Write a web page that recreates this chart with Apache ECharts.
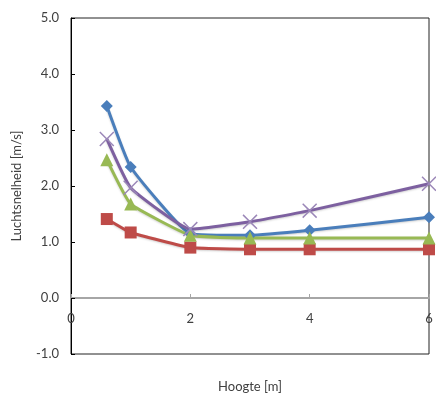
<!DOCTYPE html>
<html>
<head>
<meta charset="utf-8">
<script src="https://cdn.jsdelivr.net/npm/echarts@6/dist/echarts.min.js"></script>
<style>
  html, body { margin: 0; padding: 0; background: #fff; }
  #chart { width: 436px; height: 405px; }
</style>
</head>
<body>
<div id="chart"></div>
<script>
// Heights (m) at which air speed was measured
const heights = [0.6, 1, 2, 3, 4, 6];

// Air speed (m/s) per measurement series
const seriesBlue   = [3.43, 2.34, 1.15, 1.12, 1.21, 1.44];
const seriesRed    = [1.41, 1.17, 0.90, 0.87, 0.87, 0.87];
const seriesGreen  = [2.47, 1.68, 1.12, 1.07, 1.07, 1.07];
const seriesPurple = [2.84, 1.97, 1.23, 1.36, 1.56, 2.04];

const xTicks = [0, 2, 4, 6];
const yTicks = [-1, 0, 1, 2, 3, 4, 5];

const FONT = 'Lato, "Open Sans", sans-serif';
const crossPath = 'path://M0,0.7L0.7,0L5,4.3L9.3,0L10,0.7L5.7,5L10,9.3L9.3,10L5,5.7L0.7,10L0,9.3L4.3,5Z';

// Plot box in pixels; the x axis sits on the zero line, one y-step above the bottom edge
const GRID = { left: 71, right: 7, top: 18, bottom: 51 };
const plotHeight = 405 - GRID.top - GRID.bottom;
const yStepPx = plotHeight / (yTicks.length - 1);

function pairs(vals) {
  return heights.map((h, i) => [h, vals[i]]);
}

function makeSeries(vals, color, symbol, size, symbolColor) {
  return {
    type: 'line',
    data: pairs(vals),
    smooth: 0.12,
    symbol: symbol,
    symbolSize: size,
    showSymbol: true,
    lineStyle: { color: color, width: 3, shadowColor: 'rgba(0,0,0,0.18)', shadowBlur: 2, shadowOffsetY: 1 },
    itemStyle: { color: symbolColor || color },
    emphasis: { disabled: true },
    z: 3
  };
}

const chart = echarts.init(document.getElementById('chart'), null, { renderer: 'canvas' });
chart.setOption({
  animation: false,
  backgroundColor: '#ffffff',
  grid: Object.assign({
    containLabel: false,
    outerBoundsMode: 'none',
    show: true, borderColor: '#222', borderWidth: 1, backgroundColor: 'transparent'
  }, GRID),
  xAxis: {
    type: 'value',
    min: xTicks[0], max: xTicks[xTicks.length - 1], interval: 2,
    position: 'bottom',
    offset: -yStepPx * (0 - yTicks[0]),
    name: 'Hoogte [m]',
    nameLocation: 'middle',
    nameGap: 82,
    nameTextStyle: { fontFamily: FONT, fontSize: 13, color: '#404040' },
    axisLine: { onZero: false, lineStyle: { color: '#a6a6a6', width: 2 } },
    axisTick: { show: true, inside: true, length: 4, lineStyle: { color: '#a6a6a6' } },
    axisLabel: { fontFamily: FONT, fontSize: 13, color: '#404040', margin: 14 },
    splitLine: { show: false }
  },
  yAxis: {
    type: 'value',
    min: yTicks[0], max: yTicks[yTicks.length - 1], interval: 1,
    name: 'Luchtsnelheid [m/s]',
    nameLocation: 'middle',
    nameGap: 48,
    nameTextStyle: { fontFamily: FONT, fontSize: 13, color: '#404040' },
    axisLine: { show: true, onZero: false, lineStyle: { color: '#000', width: 1 } },
    axisTick: { show: true, inside: true, length: 4, lineStyle: { color: '#000' } },
    axisLabel: { fontFamily: FONT, fontSize: 13, color: '#404040', margin: 12,
                 formatter: v => v.toFixed(1) },
    splitLine: { show: false }
  },
  series: [
    makeSeries(seriesBlue, '#4a7ebb', 'diamond', 12),
    makeSeries(seriesRed, '#be4b48', 'rect', 12),
    makeSeries(seriesGreen, '#98b954', 'triangle', 13),
    makeSeries(seriesPurple, '#7d60a0', crossPath, 15, '#9b87b8')
  ]
});
</script>
</body>
</html>
